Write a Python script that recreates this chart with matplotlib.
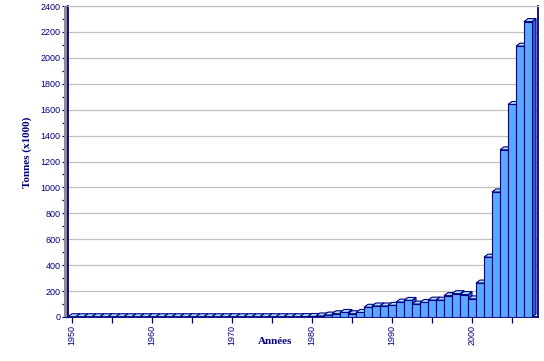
import matplotlib
matplotlib.use("Agg")
import matplotlib.pyplot as plt
from matplotlib.patches import Polygon, Rectangle
from matplotlib.ticker import MultipleLocator

years = list(range(1950, 2008))
tonnes = [2, 2, 2, 2, 2, 2, 2, 2, 2, 2,
          2, 2, 2, 2, 2, 2, 2, 2, 2, 2,
          2, 2, 2, 2, 2, 2, 2, 2, 2, 3,
          4, 8, 15, 25, 35, 25, 35, 75, 85, 85,
          90, 115, 128, 100, 112, 130, 130, 165, 180, 173,
          140, 262, 462, 965, 1290, 1640, 2090, 2280]
xtick_labels = ["1950", "1960", "1970", "1980", "1990", "2000"]
ylabel = "Tonnes (x1000)"
xlabel = "Années"

navy = "#000080"
front_c = "#5aa8ff"
top_c = "#a8e4ff"
side_c = "#2a62d0"

fig = plt.figure(figsize=(5.44, 3.61), dpi=100)
ax = fig.add_axes([68 / 544, 1 - 317 / 361, (538 - 68) / 544, (317 - 6) / 361])

dx, dy = 0.5, 23
lw = 0.8
for x, v in zip(years, tonnes):
    side = Polygon([(x + 0.5, 0), (x + 0.5, v), (x + 0.5 + dx, v + dy), (x + 0.5 + dx, dy)],
                   closed=True, facecolor=side_c, edgecolor=navy, lw=lw, zorder=3)
    top = Polygon([(x - 0.5, v), (x + 0.5, v), (x + 0.5 + dx, v + dy), (x - 0.5 + dx, v + dy)],
                  closed=True, facecolor=top_c, edgecolor=navy, lw=lw, zorder=3)
    front = Rectangle((x - 0.5, 0), 1, v, facecolor=front_c, edgecolor=navy, lw=lw, zorder=3)
    ax.add_patch(side)
    ax.add_patch(top)
    ax.add_patch(front)

ax.set_xlim(1949.5, 2008.25)
ax.set_ylim(0, 2400)

ax.yaxis.set_major_locator(MultipleLocator(200))
ax.yaxis.set_minor_locator(MultipleLocator(100))
ax.set_xticks([int(t) for t in xtick_labels])
ax.set_xticklabels(xtick_labels, rotation=90)
ax.xaxis.set_minor_locator(MultipleLocator(5))

ax.grid(axis="y", which="major", color="#c0c0c0", lw=0.9, zorder=0)
ax.set_axisbelow(True)

for s in ["left", "bottom", "right"]:
    ax.spines[s].set_color(navy)
    ax.spines[s].set_linewidth(1.3)
ax.spines["top"].set_color("#c0c0c0")
ax.spines["top"].set_linewidth(0.9)

ax.tick_params(axis="both", which="both", colors=navy, direction="out", length=4, width=0.9,
               labelsize=6.5, pad=1.5)
for lab in ax.get_xticklabels() + ax.get_yticklabels():
    lab.set_family("Liberation Sans")
    lab.set_color(navy)

# gray side wall
ax.add_patch(Rectangle((-4 / 470, 0), 4 / 470, 1, transform=ax.transAxes,
                       facecolor="#8c8c8c", edgecolor="none", clip_on=False, zorder=1))

fig.text(27 / 544, 1 - 152 / 361, ylabel, rotation=90, ha="center", va="center",
         fontsize=8, fontweight="bold", family="Liberation Serif", color=navy)
fig.text(275 / 544, 1 - 341 / 361, xlabel, ha="center", va="center",
         fontsize=8, fontweight="bold", family="Liberation Serif", color=navy)

fig.savefig("out.png", dpi=100)
